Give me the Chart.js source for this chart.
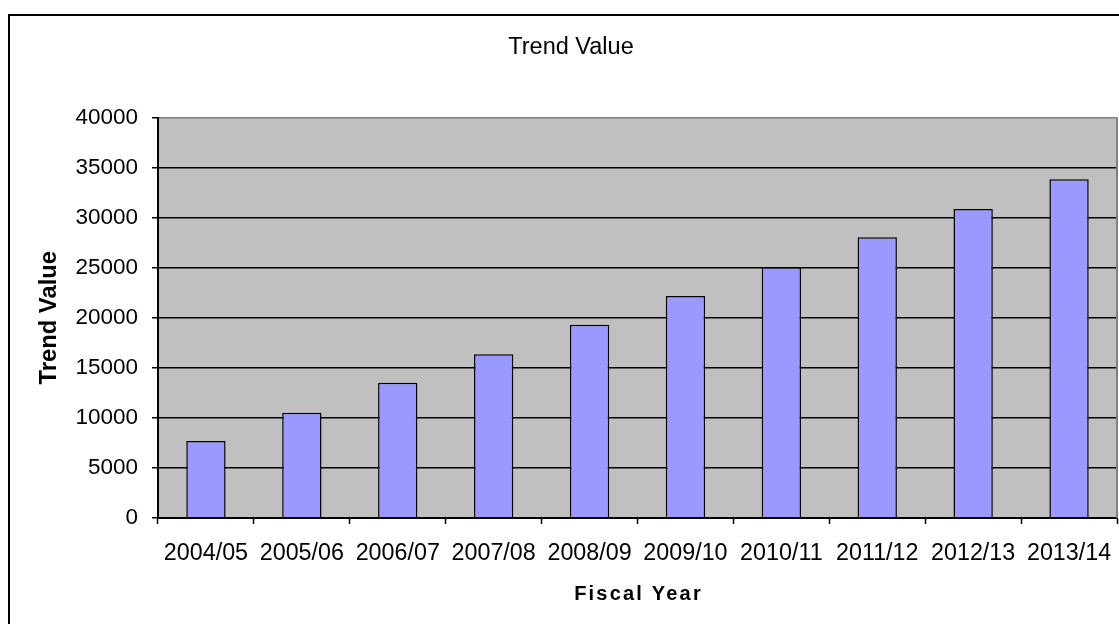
<!DOCTYPE html>
<html>
<head>
<meta charset="utf-8">
<script src="https://cdn.jsdelivr.net/npm/chart.js@4"></script>
<style>
  html, body { margin: 0; padding: 0; background: #fff; overflow: hidden; }
  #frame {
    position: absolute; left: 8px; top: 14px;
    width: 1122px; height: 620px;
    border: 2px solid #000; background: #fff;
  }
  canvas { display: block; }
</style>
</head>
<body>
<div id="frame"><canvas id="c" width="1122" height="620"></canvas></div>
<script>
// Fiscal years and their trend values
const fiscalYears = ['2004/05', '2005/06', '2006/07', '2007/08', '2008/09',
                     '2009/10', '2010/11', '2011/12', '2012/13', '2013/14'];
const trendValues = [7700, 10520, 13520, 16350, 19310, 22170, 25040, 28030, 30860, 33830];
const yTicks = [0, 5000, 10000, 15000, 20000, 25000, 30000, 35000, 40000];

const chartTitle = 'Trend Value';
const xTitle = 'Fiscal Year';
const yTitle = 'Trend Value';

const FONT = "'Liberation Sans', Arial, sans-serif";
Chart.defaults.font.family = FONT;
Chart.defaults.color = '#000';

// Grey plot background, grey right-hand frame edge, centred chart title
// and letter-spaced x-axis title
const plotDecor = {
  id: 'plotDecor',
  beforeDraw(chart) {
    const { ctx, chartArea: a } = chart;
    ctx.save();
    ctx.fillStyle = '#C0C0C0';
    ctx.fillRect(a.left, a.top, a.right - a.left, a.bottom - a.top);
    ctx.restore();
  },
  beforeDatasetsDraw(chart) {
    const { ctx, chartArea: a } = chart;
    ctx.save();
    ctx.strokeStyle = '#808080';
    ctx.lineWidth = 2;
    ctx.beginPath();
    ctx.moveTo(a.right, a.top);
    ctx.lineTo(a.right, a.bottom);
    ctx.stroke();
    ctx.restore();
  },
  afterDraw(chart) {
    const { ctx, chartArea: a, width } = chart;
    ctx.save();
    ctx.fillStyle = '#000';
    ctx.textAlign = 'center';
    ctx.textBaseline = 'middle';
    ctx.font = '23.5px ' + FONT;
    ctx.fillText(chartTitle, width / 2, 32);
    ctx.font = 'bold 20px ' + FONT;
    ctx.letterSpacing = '2.2px';
    ctx.fillText(xTitle, (a.left + a.right) / 2 + 1, 578);
    ctx.restore();
  }
};

new Chart(document.getElementById('c'), {
  type: 'bar',
  data: {
    labels: fiscalYears,
    datasets: [{
      label: 'Trend Value',
      data: trendValues,
      backgroundColor: '#9999FF',
      borderColor: '#000',
      borderWidth: 1.5,
      barPercentage: 0.41,
      categoryPercentage: 1.0
    }]
  },
  options: {
    responsive: false,
    animation: false,
    layout: { padding: { left: 0, right: 15, top: 101.5, bottom: 0 } },
    plugins: {
      legend: { display: false },
      tooltip: { enabled: false },
      title: { display: false }
    },
    scales: {
      x: {
        afterFit(scale) { scale.height = 118; },
        border: { color: '#000', width: 2 },
        grid: {
          display: true,
          offset: true,
          drawOnChartArea: false,
          drawTicks: true,
          tickLength: 6,
          tickColor: '#000',
          tickWidth: 1.5
        },
        ticks: {
          font: { size: 23.3 },
          color: '#000',
          padding: 16,
          maxRotation: 0,
          autoSkip: false
        }
      },
      y: {
        min: 0,
        max: 40000,
        afterFit(scale) { scale.width = 148; },
        afterBuildTicks(scale) { scale.ticks = yTicks.map(v => ({ value: v })); },
        border: { color: '#000', width: 2 },
        grid: {
          color: (c) => (c.tick && c.tick.value === 40000 ? '#808080' : '#000'),
          lineWidth: 1.5,
          drawTicks: true,
          tickLength: 6,
          tickColor: '#000',
          tickWidth: 1.5
        },
        ticks: {
          font: { size: 22.5 },
          color: '#000',
          padding: 14,
          callback: (v) => String(v)
        },
        title: {
          display: true,
          text: yTitle,
          font: { size: 23.8, weight: 'bold' },
          color: '#000',
          padding: { top: 25, bottom: 0 }
        }
      }
    }
  },
  plugins: [plotDecor]
});
</script>
</body>
</html>
